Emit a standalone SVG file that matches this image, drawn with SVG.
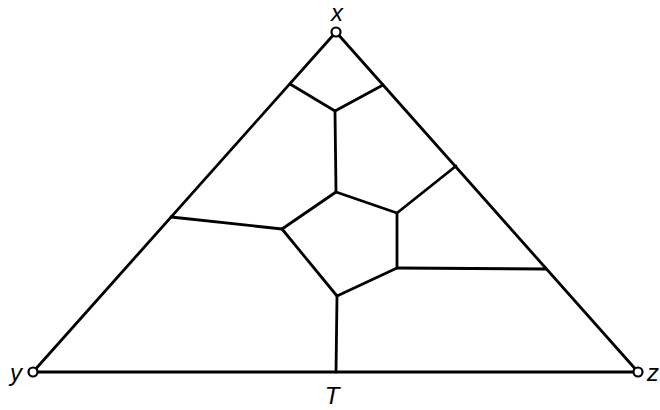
<svg xmlns="http://www.w3.org/2000/svg" width="660" height="410" viewBox="0 0 660 410">
<style>
.l{stroke:#000;stroke-width:2.8;fill:none;stroke-linejoin:round;stroke-linecap:round}
.v{stroke:#000;stroke-width:2.2;fill:#fff}
.t{font-family:"Liberation Sans",Arial,sans-serif;font-style:italic;font-size:24px;fill:#000}
</style>
<rect width="660" height="410" fill="#fff"/>
<g id="connectors">
<path class="l" d="M336,32 L33,372 L638,372 Z"/>
<path class="l" d="M290,84 L335,111 L383,85"/>
<path class="l" d="M335,111 L336,192"/>
<path class="l" d="M336,192 L397,213 L397,268 L337,296 L282,229 Z"/>
<path class="l" d="M282,229 L171,217"/>
<path class="l" d="M397,213 L456,166"/>
<path class="l" d="M397,268 L546,269"/>
<path class="l" d="M337,296 L336,372"/>
</g>
<g id="node-x"><circle class="v" cx="336" cy="32" r="4.5"/><text class="t" x="337" y="21" text-anchor="middle">x</text></g>
<g id="node-y"><circle class="v" cx="33" cy="372" r="4.5"/><text class="t" x="16" y="381" text-anchor="middle">y</text></g>
<g id="node-z"><circle class="v" cx="638" cy="372" r="4.5"/><text class="t" x="653" y="381" text-anchor="middle">z</text></g>
<g id="node-T"><text class="t" x="332" y="404" text-anchor="middle">T</text></g>
</svg>
